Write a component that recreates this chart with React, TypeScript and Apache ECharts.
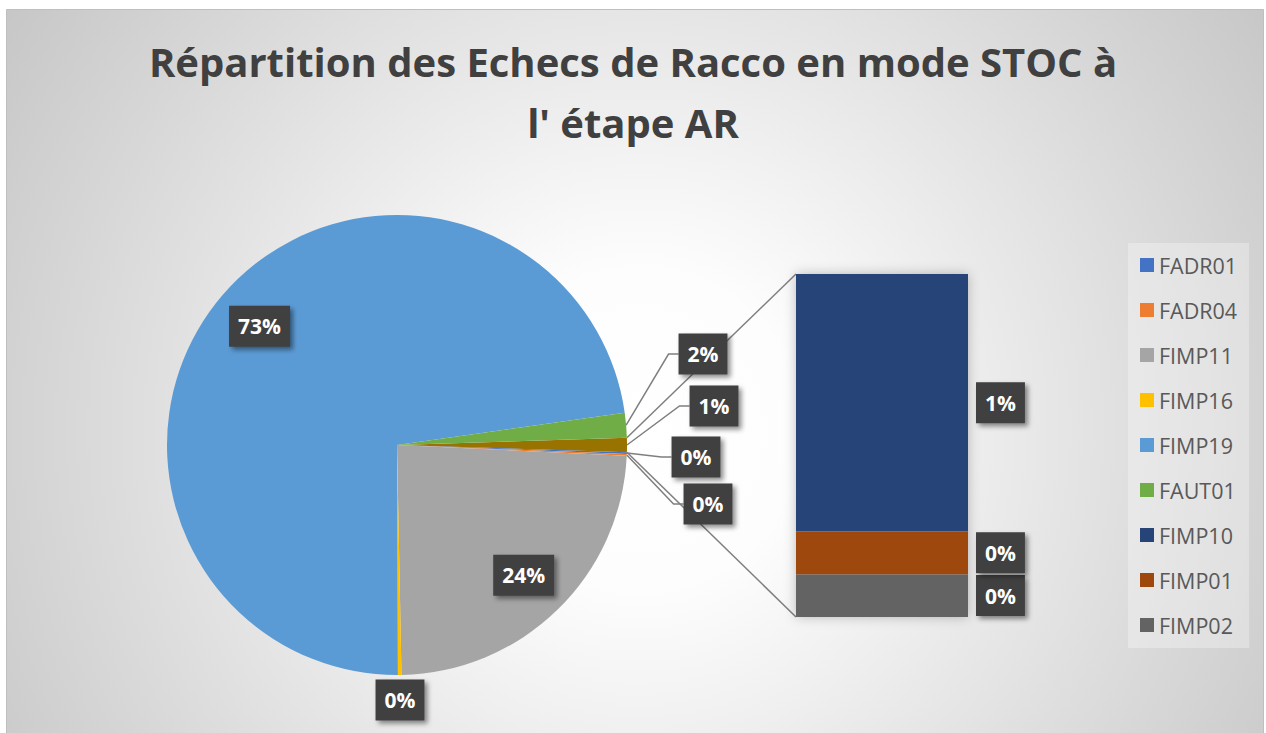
import React, { useEffect, useRef } from 'react';
import * as echarts from 'echarts';

// ---- data ----
const TITLE = "Répartition des Echecs de Racco en mode STOC à\nl' étape AR";
const pieNames = ['FADR01', 'FADR04', 'FIMP11', 'FIMP16', 'FIMP19', 'FAUT01'];
const pieValues = [1, 1, 192, 2, 584, 14];
const pieColors = ['#4472C4', '#ED7D31', '#A5A5A5', '#FFC000', '#5B9BD5', '#70AD47'];
const barNames = ['FIMP10', 'FIMP01', 'FIMP02'];
const barValues = [6, 1, 1];
const barColors = ['#264478', '#9E480E', '#636363'];
const OTHER_NAME = 'Autre';
const OTHER_COLOR = '#997300';
const legendOrder = [...pieNames, ...barNames];

// ---- layout ----
const CX = 397;
const CY = 445;
const R = 230;
const GRID = { left: 796, top: 274, width: 172, height: 343 };
const CALLOUTS: Record<string, [number, number]> = {
  FAUT01: [703, 354],
  Autre: [714, 406],
  FADR01: [696, 457],
  FADR04: [708, 504],
};
const INNER = ['FIMP19', 'FIMP11'];
const FONT = "'Open Sans', 'DejaVu Sans', sans-serif";

const sum = (a: number[]) => a.reduce((s, v) => s + v, 0);

export default function App() {
  const ref = useRef<HTMLDivElement>(null);
  useEffect(() => {
    if (!ref.current) return;
    const chart = echarts.init(ref.current, undefined, { renderer: 'svg' });

    const otherTotal = sum(barValues);
    const pieSeq = [
      { name: OTHER_NAME, value: otherTotal, color: OTHER_COLOR },
      ...pieNames.map((n, i) => ({ name: n, value: pieValues[i], color: pieColors[i] })),
    ];
    const total = sum(pieSeq.map((d) => d.value));
    const pct = (v: number) => Math.round((v / total) * 100) + '%';
    const startAngle = ((otherTotal / total) * 360) / 2;

    let acc = -startAngle;
    const mids = pieSeq.map((d) => {
      const a = (d.value / total) * 360;
      const m = acc + a / 2;
      acc += a;
      return (m * Math.PI) / 180;
    });
    const spots: [number, number][] = pieSeq.map((d, i) => {
      if (CALLOUTS[d.name]) return CALLOUTS[d.name];
      const r = INNER.includes(d.name) ? R * 0.79 : R + 25;
      return [CX + r * Math.cos(mids[i]), CY + r * Math.sin(mids[i])];
    });

    const boxLabel = {
      color: '#ffffff',
      fontFamily: FONT,
      fontWeight: 'bold' as const,
      fontSize: 21,
      lineHeight: 27,
      backgroundColor: '#3f3f3f',
      padding: [7, 9, 7, 9],
      shadowColor: 'rgba(0,0,0,0.45)',
      shadowBlur: 5,
      shadowOffsetX: 3,
      shadowOffsetY: 3,
    };

    const bg = {
      id: 'bg',
      type: 'rect',
      z: -100,
      silent: true,
      shape: { x: 6.5, y: 9.5, width: 1257, height: 730 },
      style: {
        fill: new echarts.graphic.RadialGradient(
          640,
          430,
          800,
          [
            { offset: 0, color: '#ffffff' },
            { offset: 0.2, color: '#fdfdfd' },
            { offset: 1, color: '#c3c3c3' },
          ],
          true
        ),
        stroke: '#bfbfbf',
        lineWidth: 1,
      },
    };

    const option: any = {
      animation: false,
      title: {
        text: TITLE,
        left: 'center',
        top: 31,
        padding: 0,
        textStyle: {
          fontFamily: FONT,
          fontWeight: 'bold',
          fontSize: 40,
          color: '#404040',
          lineHeight: 61,
        },
      },
      legend: {
        orient: 'vertical',
        left: 1128,
        top: 243,
        data: legendOrder,
        icon: 'rect',
        itemWidth: 14,
        itemHeight: 14,
        itemGap: 23,
        padding: [11, 12, 12, 12],
        backgroundColor: 'rgba(255,255,255,0.3)',
        selectedMode: false,
        textStyle: { fontFamily: FONT, fontSize: 21.5, color: '#595959', lineHeight: 22 },
      },
      grid: { ...GRID },
      xAxis: { type: 'category', data: [OTHER_NAME], show: false },
      yAxis: { type: 'value', min: 0, max: otherTotal, show: false },
      graphic: { elements: [bg] },
      series: [
        {
          type: 'pie',
          center: [CX, CY],
          radius: R,
          startAngle,
          clockwise: true,
          avoidLabelOverlap: false,
          emphasis: { disabled: true },
          itemStyle: { borderWidth: 0 },
          label: {
            show: true,
            position: 'outside',
            formatter: (p: any) => pct(p.value),
            ...boxLabel,
          },
          labelLine: { show: true, length: 10, length2: 10, lineStyle: { color: '#7f7f7f', width: 1.5 } },
          labelLayout: (p: any) => {
            const d = pieSeq[p.dataIndex];
            const s = spots[p.dataIndex];
            const out: any = { x: s[0], y: s[1], align: 'center', verticalAlign: 'middle' };
            if (CALLOUTS[d.name] && p.labelLinePoints) {
              const left = s[0] - p.labelRect.width / 2;
              out.labelLinePoints = [p.labelLinePoints[0], [left - 10, s[1]], [left, s[1]]];
            }
            return out;
          },
          data: pieSeq.map((d) => ({
            name: d.name,
            value: d.value,
            itemStyle: { color: d.color },
            labelLine: { show: !!CALLOUTS[d.name] },
          })),
        },
        ...barNames
          .map((n, i) => ({
            type: 'bar',
            name: n,
            stack: 'autre',
            barWidth: '100%',
            showBackground: i === barNames.length - 1,
            backgroundStyle: {
              color: '#f4f4f4',
              shadowBlur: 12,
              shadowColor: 'rgba(0,0,0,0.25)',
            },
            itemStyle: { color: barColors[i] },
            emphasis: { disabled: true },
            label: {
              show: true,
              position: 'right',
              distance: 8,
              formatter: (p: any) => pct(p.value),
              ...boxLabel,
            },
            data: [barValues[i]],
          }))
          .reverse(),
      ],
    };

    chart.setOption(option);

    const top = chart.convertToPixel({ gridIndex: 0 }, [0, otherTotal]) as number[];
    const bot = chart.convertToPixel({ gridIndex: 0 }, [0, 0]) as number[];
    const barLeft = top[0] - GRID.width / 2;
    const a1 = (-startAngle * Math.PI) / 180;
    const a2 = (startAngle * Math.PI) / 180;
    const lineStyle = { stroke: '#7f7f7f', lineWidth: 1.5 };
    chart.setOption({
      graphic: {
        elements: [
          bg,
          {
            id: 'c1',
            type: 'line',
            z: 1,
            silent: true,
            shape: { x1: CX + R * Math.cos(a1), y1: CY + R * Math.sin(a1), x2: barLeft, y2: top[1] },
            style: lineStyle,
          },
          {
            id: 'c2',
            type: 'line',
            z: 1,
            silent: true,
            shape: { x1: CX + R * Math.cos(a2), y1: CY + R * Math.sin(a2), x2: barLeft, y2: bot[1] },
            style: lineStyle,
          },
        ],
      },
    });

    return () => chart.dispose();
  }, []);

  return (
    <div
      ref={ref}
      style={{ position: 'absolute', left: 0, top: 0, width: 1266, height: 733, background: '#ffffff' }}
    />
  );
}
